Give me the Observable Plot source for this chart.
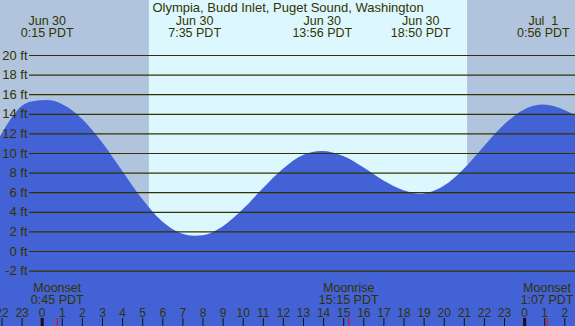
<!DOCTYPE html>
<html>
<head>
<meta charset="utf-8">
<script src="https://cdn.jsdelivr.net/npm/d3@7"></script>
<script src="https://cdn.jsdelivr.net/npm/@observablehq/plot@0.6"></script>
<style>
  html, body { margin: 0; padding: 0; background: #ffffff; }
  #chart svg { display: block; }
</style>
</head>
<body>
<div id="chart"></div>
<script>
// ---- Data (hours since Jun 30 00:00 PDT, heights in feet) ----
const title = "Olympia, Budd Inlet, Puget Sound, Washington";

const tideHours = [-2.1, -1.5, -1, -0.5, 0.25, 1, 2, 3, 4, 5, 6, 7, 7.583, 8, 9, 10, 11, 12, 13, 13.933, 15, 16, 17, 18, 18.833, 20, 21, 22, 23, 24, 24.933, 26, 26.6];
const tideFeet  = [11.6, 13.6, 14.8, 15.25, 15.4, 15.0, 13.5, 11.1, 8.2, 5.3, 3.0, 1.75, 1.55, 1.6, 2.5, 4.25, 6.4, 8.4, 9.8, 10.2, 9.7, 8.55, 7.2, 6.2, 5.85, 6.65, 8.4, 10.7, 12.9, 14.45, 14.95, 14.4, 13.8];

const extremeHours = [0.25, 7.583, 13.933, 18.833, 24.933];
const extremeDates = ["Jun 30", "Jun 30", "Jun 30", "Jun 30", "Jul\u00a0 1"];
const extremeTimes = ["0:15 PDT", "7:35 PDT", "13:56 PDT", "18:50 PDT", "0:56 PDT"];

const moonHours  = [0.75, 15.25, 25.117];
const moonEvents = ["Moonset", "Moonrise", "Moonset"];
const moonTimes  = ["0:45 PDT", "15:15 PDT", "1:07 PDT"];

const lightStart = [-3, 5.33, 21.17];
const lightEnd   = [5.33, 21.17, 28];
const lightKind  = ["night", "day", "night"];

const feetTicks = [-2, 0, 2, 4, 6, 8, 10, 12, 14, 16, 18, 20];
const hourTicks = d3.range(-2, 27);

// ---- Tables built from the arrays ----
const tide = tideHours.map((h, i) => ({h, ft: tideFeet[i]}));
const extremes = extremeHours.map((h, i) => ({h, label: extremeDates[i] + "\n" + extremeTimes[i]}));
const moon = moonHours.map((h, i) => ({h, label: moonEvents[i] + "\n" + moonTimes[i]}));
const light = lightStart.map((s, i) => ({s, e: lightEnd[i], kind: lightKind[i]}));

const ink = "#333300";
const font = "Liberation Sans, Arial, Helvetica, sans-serif";

const chart = Plot.plot({
  width: 575,
  height: 326,
  margin: 0,
  style: {fontFamily: font, background: "#b0c4de", overflow: "hidden"},
  x: {domain: [-2.0746, 26.532], axis: null},
  y: {domain: [-7.653, 25.612], axis: null},
  color: {domain: ["night", "day"], range: ["#b0c4de", "#ddf7ff"]},
  marks: [
    Plot.rect(light, {x1: "s", x2: "e", fill: "kind"}),
    Plot.areaY(tide, {x: "h", y1: -20, y2: "ft", curve: "monotone-x", fill: "#4262d6", clip: true}),
    Plot.ruleY(feetTicks, {y: d => d, stroke: ink, strokeWidth: 1.2, dx: 29}),
    Plot.text(feetTicks, {y: d => d, text: d => `${d} ft`, frameAnchor: "left", dx: 27, textAnchor: "end", lineAnchor: "middle", fontSize: 13, fill: ink}),
    Plot.text([title], {text: d => d, frameAnchor: "top", lineAnchor: "bottom", dy: 11, fontSize: 13, fill: ink}),
    Plot.text(extremes, {x: "h", text: "label", frameAnchor: "top", lineAnchor: "bottom", lineHeight: 0.9, dy: 36, fontSize: 12.5, fill: ink}),
    Plot.text(moon, {x: "h", text: "label", frameAnchor: "top", lineAnchor: "bottom", lineHeight: 0.96, dy: 303.5, fontSize: 12.5, fill: ink}),
    Plot.text(hourTicks, {x: d => d, text: d => String(((d % 24) + 24) % 24), frameAnchor: "top", lineAnchor: "bottom", dy: 316, fontSize: 12, fill: ink}),
    Plot.ruleX(hourTicks.filter(d => ((d % 24) + 24) % 24 !== 0), {x: d => d, insetTop: 318, stroke: "#111", strokeWidth: 1}),
    Plot.ruleX(hourTicks.filter(d => ((d % 24) + 24) % 24 === 0), {x: d => d, insetTop: 318, stroke: "#111", strokeWidth: 3}),
    Plot.ruleX(moon, {x: "h", insetTop: 318, stroke: "#ff0000", strokeWidth: 1})
  ]
});

document.getElementById("chart").appendChild(chart);
</script>
</body>
</html>
